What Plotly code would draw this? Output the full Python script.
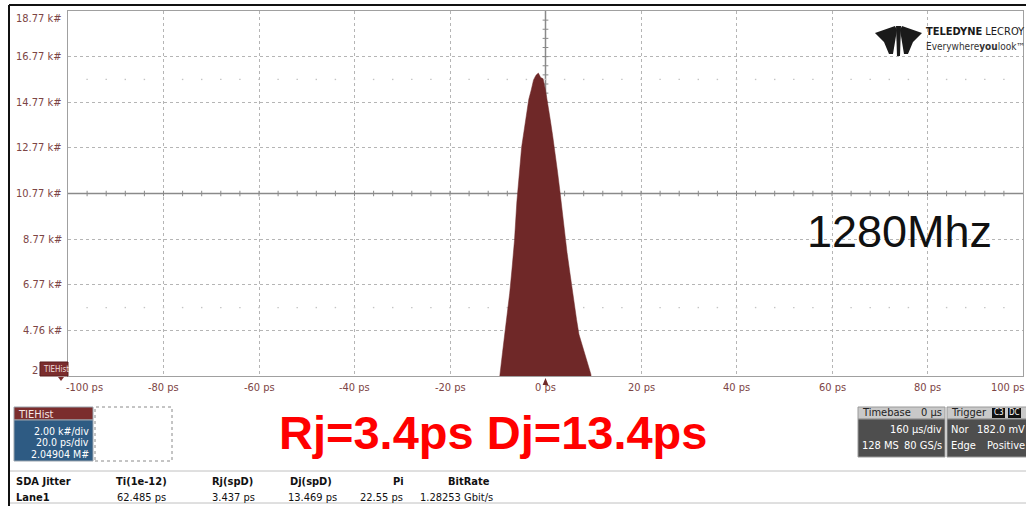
import plotly.graph_objects as go

# ---- histogram data (TIE histogram, counts in k#) ----
bin_centers_ps = [-10.5, -10.0, -9.5, -9.0, -8.5, -8.0, -7.5, -7.0, -6.5, -6.0,
                  -5.5, -5.0, -4.5, -4.0, -3.5, -3.0, -2.5, -2.0, -1.5, -1.0,
                  -0.5, 0.0, 0.5, 1.0, 1.5, 2.0, 2.5, 3.0, 3.5, 4.0,
                  4.5, 5.0, 5.5, 6.0, 6.5, 7.0, 7.5, 8.0, 8.5, 9.0,
                  9.5, 10.0, 10.5]
counts_k = [1.1, 1.9, 2.9, 3.8, 4.6, 5.5, 6.4, 7.5, 8.7, 10.4,
            11.6, 12.8, 13.5, 14.2, 14.9, 15.3, 15.75, 15.95, 16.05, 15.85,
            15.8, 15.3, 14.7, 14.0, 13.3, 12.6, 11.75, 10.9, 9.95, 9.05,
            8.2, 7.45, 6.65, 5.95, 5.25, 4.6, 4.3, 3.9, 3.55, 3.2,
            2.85, 2.0, 1.2]

# ---- axis ticks ----
x_tick_vals = [-100, -80, -60, -40, -20, 0, 20, 40, 60, 80, 100]
x_tick_text = ["-100 ps", "-80 ps", "-60 ps", "-40 ps", "-20 ps", "0 ps",
               "20 ps", "40 ps", "60 ps", "80 ps", "100 ps"]
y_tick_vals = [18.77, 16.77, 14.77, 12.77, 10.77, 8.77, 6.77, 4.77]
y_tick_text = ["18.77 k#", "16.77 k#", "14.77 k#", "12.77 k#", "10.77 k#",
               "8.77 k#", "6.77 k#", "4.76 k#"]
Y_BOTTOM, Y_TOP = 2.77, 18.77
X_LEFT, X_RIGHT = -100, 100

# ---- readouts ----
jitter_title = "Rj=3.4ps Dj=13.4ps"
freq_label = "1280Mhz"
trace_info = ["2.00 k#/div", "20.0 ps/div", "2.04904 M#"]
table_header = ["SDA Jitter", "Ti(1e-12)", "Rj(spD)", "Dj(spD)", "Pi", "BitRate"]
table_row = ["Lane1", "62.485 ps", "3.437 ps", "13.469 ps", "22.55 ps", "1.28253 Gbit/s"]

W, H = 1026, 506
PL, PR, PT, PB = 68, 1023, 11, 376   # plot area in pixels


def fx(px):
    return (px - PL) / (PR - PL)


def fy(py):
    return (PB - py) / (PB - PT)


NARROW = "DejaVu Sans Condensed, Liberation Sans Narrow, Arial Narrow, Liberation Sans, Arial"
SANS = "Liberation Sans, Arial, Helvetica"
LBL = "#7d4545"
MAROON = "#6f2828"

fig = go.Figure()
# histogram drawn as a filled outline through the bin tops
fig.add_trace(go.Scatter(x=bin_centers_ps, y=counts_k, mode="lines",
                         line=dict(shape="linear", width=0.5, color=MAROON),
                         fill="tozeroy", fillcolor=MAROON, hoverinfo="skip"))

shapes = []
ann = []

# center cross with graticule ticks
shapes.append(dict(type="line", xref="x", yref="y", x0=X_LEFT, x1=X_RIGHT,
                   y0=10.77, y1=10.77, line=dict(color="#8a8a8a", width=1.5),
                   layer="between"))
shapes.append(dict(type="line", xref="x", yref="y", x0=0, x1=0,
                   y0=Y_BOTTOM, y1=Y_TOP, line=dict(color="#8a8a8a", width=1.5),
                   layer="between"))
for i in range(-25, 26):
    xv = i * 4
    if xv in (X_LEFT, X_RIGHT):
        continue
    shapes.append(dict(type="line", xref="x", yref="y", x0=xv, x1=xv,
                       y0=10.77 - 0.12, y1=10.77 + 0.12,
                       line=dict(color="#8a8a8a", width=1), layer="between"))
    # faint dotted rows half-way between the graticule lines
    for yr in (15.77, 5.77):
        shapes.append(dict(type="rect", xref="x", yref="y",
                           x0=xv - 0.15, x1=xv + 0.15,
                           y0=yr - 0.03, y1=yr + 0.03,
                           fillcolor="#c4c4c4", line=dict(width=0),
                           layer="between"))
for j in range(-20, 21):
    yv = 10.77 + j * 0.4
    if j in (-20, 20):
        continue
    shapes.append(dict(type="line", xref="x", yref="y", x0=-0.6, x1=0.6,
                       y0=yv, y1=yv, line=dict(color="#8a8a8a", width=1),
                       layer="between"))

# y tick labels
for v, t in zip(y_tick_vals, y_tick_text):
    ann.append(dict(x=fx(64), xref="paper", y=v, yref="y", text=t,
                    showarrow=False, xanchor="right", yanchor="middle",
                    yshift=-7 if v == Y_TOP else 0,
                    font=dict(family=NARROW, size=11, color=LBL)))
ann.append(dict(x=fx(40), xref="paper", y=Y_BOTTOM, yref="y", text="2",
                showarrow=False, xanchor="right", yanchor="middle", yshift=6,
                font=dict(family=NARROW, size=11, color=LBL)))

# x tick labels
for v, t in zip(x_tick_vals, x_tick_text):
    sh = 16 if v == X_LEFT else (-16 if v == X_RIGHT else 0)
    ann.append(dict(x=v, xref="x", y=fy(387), yref="paper", text=t,
                    showarrow=False, xanchor="center", yanchor="middle",
                    xshift=sh, font=dict(family=NARROW, size=11, color=LBL)))

# trace marker at the bottom-left of the grid
shapes.append(dict(type="rect", xref="paper", yref="paper",
                   x0=fx(40), x1=fx(68), y0=fy(376), y1=fy(362),
                   fillcolor="#7b2d2d", line=dict(color="#5a1f1f", width=1)))
ann.append(dict(x=fx(41), xref="paper", y=fy(369), yref="paper", text="TIEHist",
                showarrow=False, xanchor="left", yanchor="middle",
                font=dict(family=NARROW, size=8, color="#f0dede")))
shapes.append(dict(type="path", xref="paper", yref="paper",
                   path="M %f,%f L %f,%f L %f,%f Z" % (fx(58), fy(377), fx(64), fy(377), fx(61), fy(381)),
                   fillcolor="#7b2d2d", line=dict(width=0)))
# trigger position arrow at 0 ps
shapes.append(dict(type="path", xref="x", yref="paper",
                   path="M -0.6,%f L 0.6,%f L 0,%f Z" % (fy(385), fy(385), fy(378)),
                   fillcolor=MAROON, line=dict(width=0)))

# logo
logo_paths = [
    [(875, 33), (895, 26), (897, 30), (893, 54), (889, 54), (884, 42)],
    [(896, 26), (901, 26), (900, 56), (897, 56)],
    [(922, 33), (902, 26), (900, 30), (904, 54), (908, 54), (913, 42)],
]
for pts in logo_paths:
    p = "M " + " L ".join("%f,%f" % (fx(a), fy(b)) for a, b in pts) + " Z"
    shapes.append(dict(type="path", xref="paper", yref="paper", path=p,
                       fillcolor="#1a1a1a", line=dict(width=0)))
ann.append(dict(x=fx(924), xref="paper", y=fy(32), yref="paper",
                text="<b>TELEDYNE</b> LECROY", showarrow=False,
                xanchor="left", yanchor="middle",
                font=dict(family=NARROW, size=11, color="#1a1a1a")))
ann.append(dict(x=fx(924), xref="paper", y=fy(46), yref="paper",
                text="Everywhere<b>you</b>look\u2122", showarrow=False,
                xanchor="left", yanchor="middle",
                font=dict(family=NARROW, size=10, color="#333333")))

# frequency label
ann.append(dict(x=fx(899), xref="paper", y=fy(231), yref="paper", text=freq_label,
                showarrow=False, xanchor="center", yanchor="middle",
                font=dict(family=SANS, size=45, color="#111111")))

# outer black frame
shapes.append(dict(type="line", xref="paper", yref="paper", x0=fx(9), x1=fx(1026),
                   y0=fy(5), y1=fy(5), line=dict(color="#111111", width=2)))
shapes.append(dict(type="line", xref="paper", yref="paper", x0=fx(9), x1=fx(9),
                   y0=fy(5), y1=fy(506), line=dict(color="#111111", width=2)))

# trace descriptor box
shapes.append(dict(type="rect", xref="paper", yref="paper", x0=fx(14), x1=fx(93),
                   y0=fy(420), y1=fy(407), fillcolor="#7b2d2d",
                   line=dict(color="#9aa4ad", width=1)))
shapes.append(dict(type="rect", xref="paper", yref="paper", x0=fx(14), x1=fx(93),
                   y0=fy(461), y1=fy(420), fillcolor="#2e5b83",
                   line=dict(color="#9aa4ad", width=1)))
ann.append(dict(x=fx(16), xref="paper", y=fy(414), yref="paper", text="TIEHist",
                showarrow=False, xanchor="left", yanchor="middle",
                font=dict(family=NARROW, size=11, color="#f3e6e6")))
for k, t in enumerate(trace_info):
    ann.append(dict(x=fx(91), xref="paper", y=fy(430.5 + 11.5 * k), yref="paper", text=t,
                    showarrow=False, xanchor="right", yanchor="middle",
                    font=dict(family=NARROW, size=10.5, color="#ffffff")))
shapes.append(dict(type="rect", xref="paper", yref="paper", x0=fx(95), x1=fx(172),
                   y0=fy(461), y1=fy(407), line=dict(color="#8a8a8a", width=1, dash="dot")))

# jitter result
ann.append(dict(x=fx(493), xref="paper", y=fy(432), yref="paper", text="<b>%s</b>" % jitter_title,
                showarrow=False, xanchor="center", yanchor="middle",
                font=dict(family=SANS, size=47, color="#ff0000")))

# timebase / trigger boxes
for bx0, bx1 in ((858, 945), (947, 1030)):
    shapes.append(dict(type="rect", xref="paper", yref="paper", x0=fx(bx0), x1=fx(bx1),
                       y0=fy(419), y1=fy(407), fillcolor="#c9c9c9",
                       line=dict(color="#9a9a9a", width=1)))
    shapes.append(dict(type="rect", xref="paper", yref="paper", x0=fx(bx0), x1=fx(bx1),
                       y0=fy(457), y1=fy(419), fillcolor="#4e4e4e",
                       line=dict(color="#9a9a9a", width=1)))
for cx0, cx1 in ((992, 1005), (1008, 1021)):
    shapes.append(dict(type="rect", xref="paper", yref="paper", x0=fx(cx0), x1=fx(cx1),
                       y0=fy(418), y1=fy(408), fillcolor="#111111", line=dict(width=0)))


def txt(x, y, t, anchor, color, size=11, bold=False):
    ann.append(dict(x=fx(x), xref="paper", y=fy(y), yref="paper",
                    text="<b>%s</b>" % t if bold else t, showarrow=False,
                    xanchor=anchor, yanchor="middle",
                    font=dict(family=NARROW, size=size, color=color)))


txt(860, 413, "Timebase", "left", "#222222")
txt(944, 413, "0 \u00b5s", "right", "#222222")
txt(944, 429, "160 \u00b5s/div", "right", "#ffffff")
txt(860, 445, "128 MS", "left", "#ffffff")
txt(944, 445, "80 GS/s", "right", "#ffffff")
txt(949, 413, "Trigger", "left", "#222222")
txt(998.5, 413, "C3", "center", "#ffffff", size=8)
txt(1014.5, 413, "DC", "center", "#ffffff", size=8)
txt(949, 429, "Nor", "left", "#ffffff")
txt(1027, 429, "182.0 mV", "right", "#ffffff")
txt(949, 445, "Edge", "left", "#ffffff")
txt(1027, 445, "Positive", "right", "#ffffff")

# measurement table
for ly in (471, 503):
    shapes.append(dict(type="line", xref="paper", yref="paper", x0=fx(10), x1=fx(1026),
                       y0=fy(ly), y1=fy(ly), line=dict(color="#c0c0c0", width=1)))
hdr_pos = [(14, "left"), (141, "center"), (232, "center"), (311, "center"),
           (398, "center"), (469, "center")]
row_pos = [(14, "left"), (141, "center"), (233, "center"), (312, "center"),
           (405, "right"), (456, "center")]
for (px_, a), t in zip(hdr_pos, table_header):
    txt(px_, 481, t, a, "#111111", bold=True)
for (px_, a), t in zip(row_pos, table_row):
    txt(px_, 497, t, a, "#111111", bold=(a == "left"))

fig.update_layout(
    width=W, height=H,
    margin=dict(l=PL, r=W - PR, t=PT, b=H - PB),
    paper_bgcolor="white", plot_bgcolor="white",
    showlegend=False,
    shapes=shapes, annotations=ann,
    xaxis=dict(range=[X_LEFT, X_RIGHT], tick0=-100, dtick=20,
               showticklabels=False, ticks="", zeroline=False,
               showgrid=True, gridcolor="#b5b5b5", griddash="dot", gridwidth=1,
               showline=True, mirror=True, linecolor="#a0a0a0", linewidth=1,
               fixedrange=True),
    yaxis=dict(range=[Y_BOTTOM, Y_TOP], tick0=Y_BOTTOM, dtick=2,
               showticklabels=False, ticks="", zeroline=False,
               showgrid=True, gridcolor="#b5b5b5", griddash="dot", gridwidth=1,
               showline=True, mirror=True, linecolor="#a0a0a0", linewidth=1,
               fixedrange=True),
)

fig.write_html("out.html")
